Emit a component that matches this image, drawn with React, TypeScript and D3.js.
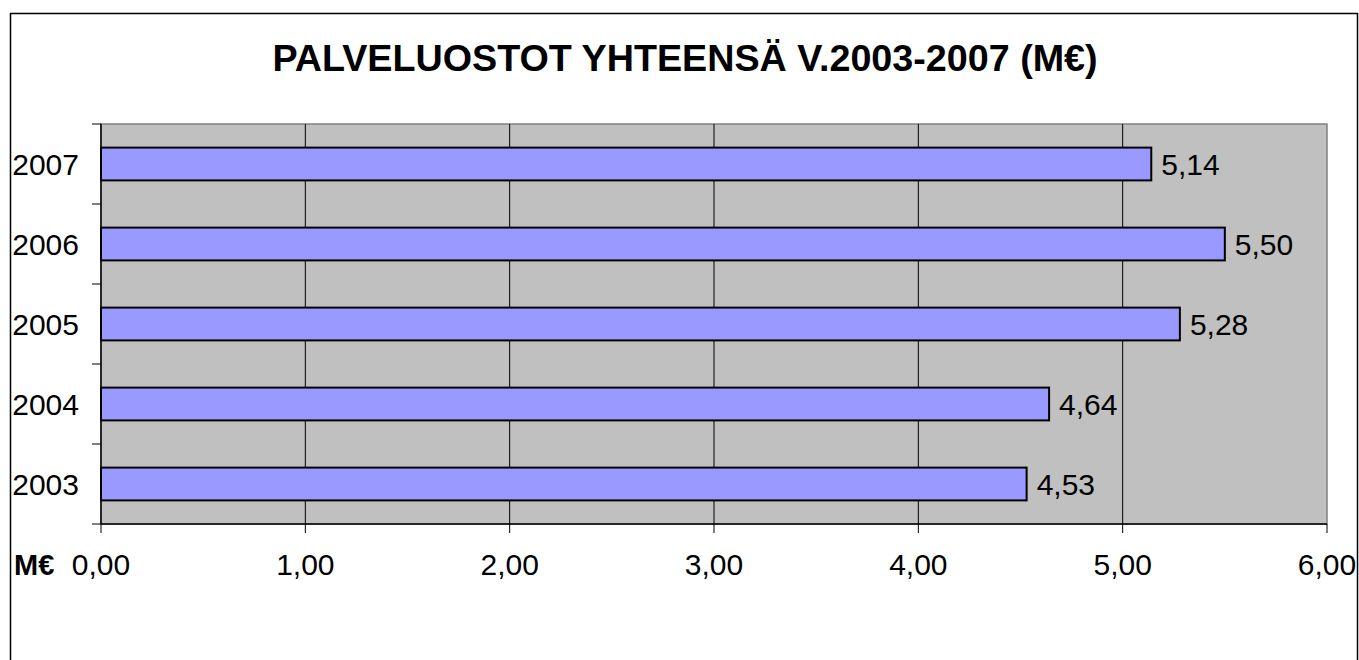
import React from 'react';
import * as d3 from 'd3';

const years = ['2007', '2006', '2005', '2004', '2003'];
const values = [5.14, 5.5, 5.28, 4.64, 4.53];
const xTicks = [0, 1, 2, 3, 4, 5, 6];

const W = 1359;
const H = 660;
const margin = { left: 101, right: 32, top: 124, bottom: 136 };
const font = '"Liberation Sans", Arial, sans-serif';
const fmt = (v: number) => v.toFixed(2).replace('.', ',');

const App = () => {
  const x = d3
    .scaleLinear()
    .domain([0, 6])
    .range([margin.left, W - margin.right]);

  const y = d3
    .scaleBand()
    .domain(years)
    .range([margin.top, H - margin.bottom])
    .paddingInner(0.59)
    .paddingOuter(0.295);

  const band = (H - margin.bottom - margin.top) / years.length;
  const x0 = x(0);
  const x1 = x(6);
  const y0 = margin.top;
  const y1 = H - margin.bottom;

  return (
    <svg width={W} height={H} style={{ position: 'absolute', left: 0, top: 0, background: '#fff' }}>
      <rect x={10.5} y={13.5} width={1347} height={660} fill="#fff" stroke="#000" strokeWidth={1.5} />
      <text x={685} y={71} textAnchor="middle" fontFamily={font} fontWeight="bold" fontSize={37.7}>
        PALVELUOSTOT YHTEENSÄ V.2003-2007 (M€)
      </text>

      <rect x={x0} y={y0} width={x1 - x0} height={y1 - y0} fill="#c0c0c0" stroke="#808080" strokeWidth={1.5} />

      {xTicks.slice(1, -1).map((t) => (
        <line key={'g' + t} x1={x(t)} x2={x(t)} y1={y0} y2={y1} stroke="#000" strokeWidth={1} />
      ))}

      {years.map((yr, i) => (
        <g key={yr}>
          <rect
            x={x(0)}
            y={y(yr)}
            width={x(values[i]) - x(0)}
            height={y.bandwidth()}
            fill="#9999ff"
            stroke="#000"
            strokeWidth={2}
          />
          <text
            x={x(values[i]) + 10}
            y={(y(yr) as number) + y.bandwidth() / 2}
            dy="0.36em"
            fontFamily={font}
            fontSize={30}
          >
            {fmt(values[i])}
          </text>
          <text
            x={79}
            y={(y(yr) as number) + y.bandwidth() / 2}
            dy="0.36em"
            textAnchor="end"
            fontFamily={font}
            fontSize={30}
          >
            {yr}
          </text>
        </g>
      ))}

      {/* axes */}
      <line x1={x0} x2={x0} y1={y0} y2={y1} stroke="#000" strokeWidth={1.5} />
      <line x1={x0} x2={x1} y1={y1} y2={y1} stroke="#000" strokeWidth={1.5} />
      {d3.range(years.length + 1).map((i) => (
        <line key={'yt' + i} x1={x0 - 9} x2={x0} y1={y0 + i * band} y2={y0 + i * band} stroke="#000" strokeWidth={1} />
      ))}
      {xTicks.map((t) => (
        <g key={'xt' + t}>
          <line x1={x(t)} x2={x(t)} y1={y1} y2={y1 + 9} stroke="#000" strokeWidth={1} />
          <text x={x(t)} y={575} textAnchor="middle" fontFamily={font} fontSize={30}>
            {fmt(t)}
          </text>
        </g>
      ))}
      <text x={14} y={575} fontFamily={font} fontWeight="bold" fontSize={29}>
        M€
      </text>
    </svg>
  );
};

export default App;
